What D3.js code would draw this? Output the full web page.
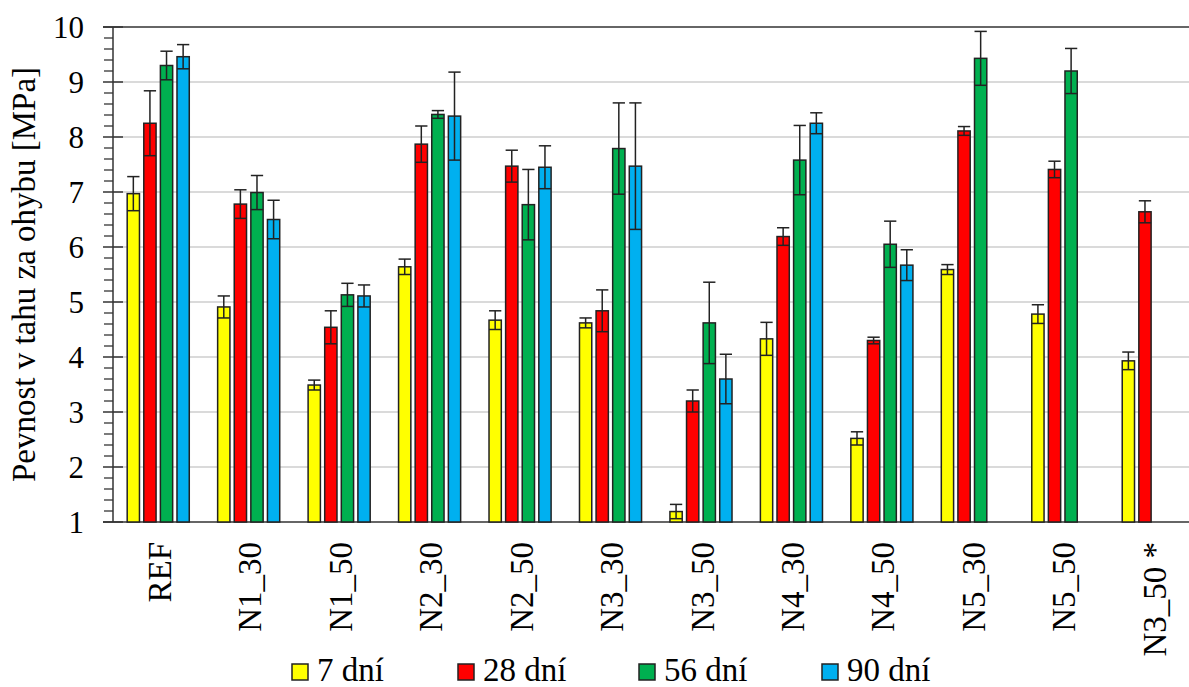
<!DOCTYPE html>
<html>
<head>
<meta charset="utf-8">
<script src="https://cdn.jsdelivr.net/npm/d3@7"></script>
</head>
<body style="margin:0">
<svg id="chart" width="1189" height="687"></svg>
<script>
// Flexural tensile strength by mixture and curing age
const categories = ["REF", "N1_30", "N1_50", "N2_30", "N2_50", "N3_30", "N3_50", "N4_30", "N4_50", "N5_30", "N5_50", "N3_50 *"];
const seriesNames = ["7 dní", "28 dní", "56 dní", "90 dní"];
const seriesColors = ["#FFFF00", "#FF0000", "#00B050", "#00B0F0"];

const mean7  = [6.97, 4.91, 3.49, 5.64, 4.67, 4.62, 1.19, 4.33, 2.52, 5.59, 4.78, 3.93];
const mean28 = [8.25, 6.78, 4.54, 7.87, 7.47, 4.84, 3.20, 6.19, 4.30, 8.11, 7.41, 6.64];
const mean56 = [9.30, 6.99, 5.13, 8.41, 6.77, 7.79, 4.62, 7.58, 6.05, 9.43, 9.20, null];
const mean90 = [9.46, 6.50, 5.11, 8.38, 7.45, 7.47, 3.60, 8.25, 5.67, null, null, null];

const sd7  = [0.31, 0.20, 0.09, 0.14, 0.17, 0.09, 0.13, 0.30, 0.12, 0.09, 0.17, 0.16];
const sd28 = [0.59, 0.26, 0.30, 0.33, 0.29, 0.38, 0.20, 0.16, 0.06, 0.08, 0.15, 0.20];
const sd56 = [0.26, 0.31, 0.21, 0.07, 0.64, 0.83, 0.74, 0.63, 0.42, 0.49, 0.41, null];
const sd90 = [0.22, 0.35, 0.20, 0.80, 0.39, 1.15, 0.45, 0.19, 0.28, null, null, null];

const yTicks = [1, 2, 3, 4, 5, 6, 7, 8, 9, 10];
const yTitle = "Pevnost v tahu za ohybu [MPa]";

const FONT = "Times New Roman";

const means = [mean7, mean28, mean56, mean90];
const sds = [sd7, sd28, sd56, sd90];

const rows = [];
categories.forEach((c, i) => {
  seriesNames.forEach((s, k) => {
    if (means[k][i] != null) rows.push({ cat: c, series: s, k, value: means[k][i], sd: sds[k][i] });
  });
});

const svg = d3.select("#chart");
const plotLeft = 113, plotTop = 27, plotBottom = 522, plotRight = 1198.5;

const x0 = d3.scaleBand().domain(categories).range([plotLeft, plotRight])
  .paddingInner(0.266).paddingOuter(0.133);
const x1 = d3.scaleBand().domain(seriesNames).range([0, x0.bandwidth()])
  .paddingInner(0.26).paddingOuter(0.13);
const y = d3.scaleLinear().domain([1, 10]).range([plotBottom, plotTop]);
const color = d3.scaleOrdinal().domain(seriesNames).range(seriesColors);

// grid
svg.append("g").selectAll("line").data(yTicks.filter(t => t > 1 && t < 10)).join("line")
  .attr("x1", plotLeft).attr("x2", 1189)
  .attr("y1", d => y(d)).attr("y2", d => y(d))
  .attr("stroke", "#dadada").attr("stroke-width", 2);

// frame lines top and bottom
svg.append("line").attr("x1", plotLeft - 10).attr("x2", 1189).attr("y1", y(10)).attr("y2", y(10))
  .attr("stroke", "#333").attr("stroke-width", 1.5);
svg.append("line").attr("x1", plotLeft - 10).attr("x2", 1189).attr("y1", y(1)).attr("y2", y(1))
  .attr("stroke", "#333").attr("stroke-width", 1.5);

// y axis with major and minor ticks
const yAxis = svg.append("g");
yAxis.append("line").attr("x1", plotLeft).attr("x2", plotLeft).attr("y1", y(10)).attr("y2", y(1))
  .attr("stroke", "#333").attr("stroke-width", 1.5);
const minor = d3.range(1, 10.001, 0.2).filter(v => Math.abs(v - Math.round(v)) > 1e-6);
yAxis.selectAll("line.minor").data(minor).join("line").attr("class", "minor")
  .attr("x1", plotLeft - 9).attr("x2", plotLeft).attr("y1", d => y(d)).attr("y2", d => y(d))
  .attr("stroke", "#333").attr("stroke-width", 1.3);
yAxis.selectAll("line.major").data(yTicks).join("line").attr("class", "major")
  .attr("x1", plotLeft - 10).attr("x2", plotLeft + 10).attr("y1", d => y(d)).attr("y2", d => y(d))
  .attr("stroke", "#333").attr("stroke-width", 1.5);
svg.selectAll("text.ytick").data(yTicks).join("text").attr("class", "ytick")
  .attr("x", 84).attr("y", d => y(d)).attr("dy", "0.34em")
  .attr("text-anchor", "end").attr("font-size", 31)
  .style("font-family", FONT)
  .text(d => d);

// y title
svg.append("text")
  .attr("transform", `translate(35, ${(plotTop + plotBottom) / 2}) rotate(-90)`)
  .attr("text-anchor", "middle").attr("font-size", 33)
  .style("font-family", FONT)
  .text(yTitle);

// bars
const g = svg.append("g");
const barX = d => x0(d.cat) + x1(d.series);
g.selectAll("rect").data(rows).join("rect")
  .attr("x", barX).attr("width", x1.bandwidth())
  .attr("y", d => y(d.value)).attr("height", d => y(1) - y(d.value))
  .attr("fill", d => color(d.series))
  .attr("stroke", "#222").attr("stroke-width", 1.5);

// error bars
const eb = svg.append("g").attr("stroke", "#222").attr("stroke-width", 1.5);
rows.forEach(d => {
  const cx = barX(d) + x1.bandwidth() / 2;
  const hw = x1.bandwidth() / 2;
  eb.append("line").attr("x1", cx).attr("x2", cx).attr("y1", y(d.value + d.sd)).attr("y2", y(d.value - d.sd));
  eb.append("line").attr("x1", cx - hw).attr("x2", cx + hw).attr("y1", y(d.value + d.sd)).attr("y2", y(d.value + d.sd));
  eb.append("line").attr("x1", cx - hw).attr("x2", cx + hw).attr("y1", y(d.value - d.sd)).attr("y2", y(d.value - d.sd));
});

// category labels
svg.selectAll("text.xcat").data(categories).join("text").attr("class", "xcat")
  .attr("transform", d => `translate(${x0(d) + x0.bandwidth() / 2 + 1}, 542) rotate(-90)`)
  .attr("dy", "0.35em").attr("text-anchor", "end").attr("font-size", 33)
  .style("font-family", FONT)
  .text(d => d);

// legend: swatch + label, laid out left to right
const legendX = [292, 458, 639, 822];
seriesNames.forEach((s, k) => {
  svg.append("rect").attr("x", legendX[k]).attr("y", 664).attr("width", 16).attr("height", 16)
    .attr("fill", color(s)).attr("stroke", "#222").attr("stroke-width", 1.5);
  svg.append("text").attr("x", legendX[k] + 25).attr("y", 681).attr("font-size", 33)
    .style("font-family", FONT).text(s);
});
</script>
</body>
</html>
